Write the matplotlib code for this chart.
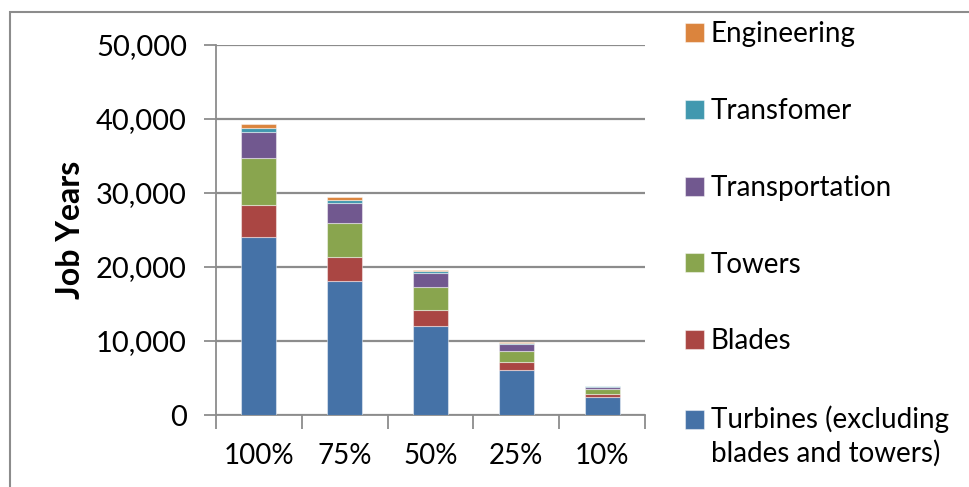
import matplotlib.pyplot as plt
from matplotlib.patches import Rectangle
from matplotlib.ticker import FuncFormatter
import numpy as np

categories = ['100%', '75%', '50%', '25%', '10%']
turbines = [24100, 18100, 12050, 6030, 2410]
blades = [4300, 3200, 2150, 1080, 430]
towers = [6300, 4700, 3150, 1580, 630]
transportation = [3600, 2700, 1800, 900, 360]
transformer = [550, 420, 280, 140, 55]
engineering = [450, 320, 220, 110, 45]

series = [('Turbines (excluding\nblades and towers)', turbines, '#4572A7'),
          ('Blades', blades, '#AA4643'),
          ('Towers', towers, '#89A54E'),
          ('Transportation', transportation, '#71588F'),
          ('Transfomer', transformer, '#4198AF'),
          ('Engineering', engineering, '#DB843D')]

plt.rcParams['font.family'] = ['Lato', 'DejaVu Sans']

fig = plt.figure(figsize=(9.7, 4.87), dpi=100)
W, H = 970., 487.
ax = fig.add_axes([216 / W, 1 - 415 / H, (645 - 216) / W, (415 - 45) / H])

x = np.arange(len(categories))
bottom = np.zeros(len(categories))
handles = []
for name, vals, col in series:
    b = ax.bar(x, vals, width=0.41, bottom=bottom, color=col,
               edgecolor=(1, 1, 1, 0.45), linewidth=0.8, label=name, zorder=3)
    handles.append(b)
    bottom += np.array(vals)

ax.set_xlim(-0.5, len(categories) - 0.5)
ax.set_ylim(0, 50000)
ax.set_yticks(np.arange(0, 50001, 10000))
ax.yaxis.set_major_formatter(FuncFormatter(lambda v, p: '{:,.0f}'.format(v)))
ax.grid(axis='y', color='#8c8c8c', linewidth=1.6, zorder=0)
ax.set_axisbelow(True)

# category labels between boundary ticks
ax.set_xticks(np.arange(-0.5, len(categories), 1.0))
ax.set_xticklabels([])
ax.set_xticks(x, minor=True)
ax.set_xticklabels(categories, minor=True, fontsize=20)
ax.tick_params(axis='x', which='minor', length=0, pad=20)
ax.tick_params(axis='x', which='major', length=10, width=1.3, color='#8c8c8c')
ax.tick_params(axis='y', length=9, width=1.3, color='#8c8c8c', labelsize=21, pad=12)

for s in ['top', 'right']:
    ax.spines[s].set_visible(False)
for s in ['left', 'bottom']:
    ax.spines[s].set_color('#8c8c8c')
    ax.spines[s].set_linewidth(1.3)

ax.set_ylabel('Job Years', fontsize=23, fontweight='bold', labelpad=8)

leg = fig.legend(handles[::-1], [s[0] for s in series][::-1],
                 loc='upper left', bbox_to_anchor=(674 / W, 1 - 10 / H),
                 frameon=False, fontsize=20, handlelength=0.68, handleheight=0.68,
                 handletextpad=0.25, labelspacing=1.83, borderaxespad=0)
for t in leg.get_texts():
    t.set_linespacing(1.3)
# put the turbines square next to the first line of its label
leg.legend_handles[-1].set_y(leg.legend_handles[-1].get_y() + 12.5)

# outer chart border (left and top edges visible)
fig.patches.append(Rectangle((10 / W, -0.1), 1.2, 1.1 - 12 / H,
                             transform=fig.transFigure, fill=False,
                             edgecolor='#8c8c8c', linewidth=1.5))

fig.savefig('out.png', dpi=100)
